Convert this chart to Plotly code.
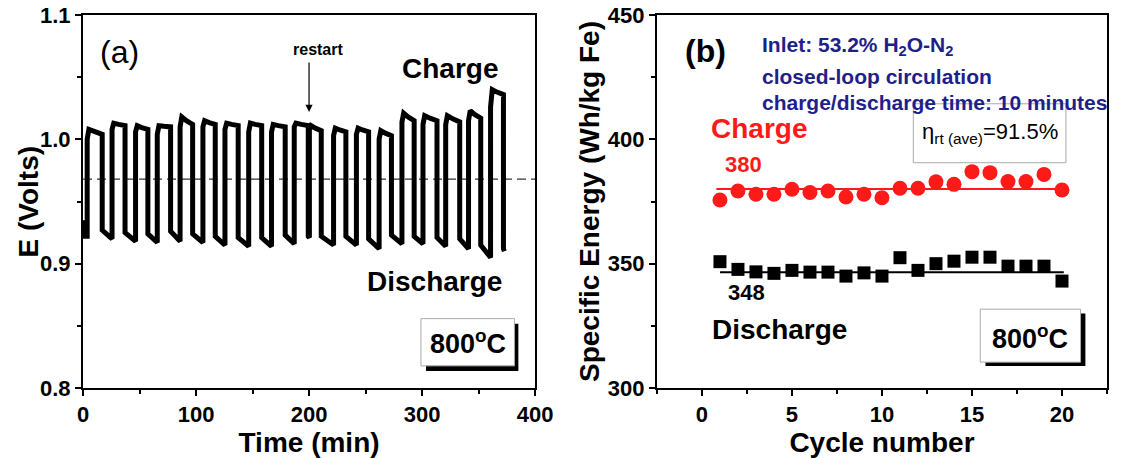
import plotly.graph_objects as go

# ---------------- Panel (a): E vs time ----------------
charge_on = [3.7, 25.7, 46.5, 65.7, 85.9, 106.1, 125.6, 146.6, 166.8, 186.9, 200.3,
             221.7, 241.9, 262.0, 282.2, 300.8, 320.9, 341.1, 360.6]
charge_off = [17.0, 37.2, 57.4, 77.5, 97.0, 117.0, 137.3, 158.1, 178.9, 199.3, 210.8,
              232.6, 252.7, 272.9, 293.0, 313.2, 333.3, 351.9, 372.0]
charge_start_V = [1.000, 1.008, 1.006, 1.004, 1.010, 1.010, 1.008, 1.006, 1.006, 1.010, 1.008,
                  1.003, 1.004, 1.000, 1.014, 1.012, 1.012, 1.015, 1.026]
charge_peak_V = [1.008, 1.013, 1.011, 1.011, 1.018, 1.015, 1.013, 1.013, 1.012, 1.013, 1.011,
                 1.009, 1.009, 1.007, 1.021, 1.019, 1.019, 1.023, 1.040]
charge_end_V = [1.004, 1.011, 1.008, 1.010, 1.012, 1.012, 1.011, 1.011, 1.010, 1.011, 1.007,
                1.006, 1.006, 1.003, 1.015, 1.015, 1.014, 1.017, 1.036]
discharge_start_V = [0.927, 0.925, 0.924, 0.926, 0.924, 0.922, 0.921, 0.921, 0.923, 0.922, 0.922,
                     0.922, 0.920, 0.923, 0.922, 0.921, 0.920, 0.915, 0.912]
discharge_end_V = [0.920, 0.918, 0.917, 0.918, 0.917, 0.915, 0.914, 0.914, 0.916, 0.921, 0.915,
                   0.915, 0.912, 0.916, 0.916, 0.914, 0.912, 0.905, 0.910]
initial_t = [0.0, 1.5]
initial_V = [0.935, 0.922]
end_time = 372.8
ref_line_t = [0, 400]
ref_line_V = [0.968, 0.968]

# ---------------- Panel (b): specific energy ----------------
cycles = list(range(1, 21))
charge_energy = [375.6, 379.2, 377.9, 377.9, 379.9, 378.6, 379.2, 376.8, 377.9, 376.5,
                 380.3, 380.3, 382.9, 381.9, 387.0, 386.6, 383.0, 383.0, 385.9, 379.6]
discharge_energy = [350.8, 347.7, 346.7, 346.1, 347.3, 346.6, 346.6, 345.0, 346.3, 345.0,
                    352.4, 347.3, 350.0, 351.0, 352.6, 352.6, 349.0, 349.0, 349.0, 343.0]
charge_avg_x = [0.8, 20]
charge_avg_y = [380, 380]
discharge_avg_x = [1, 20.1]
discharge_avg_y = [346.5, 346.5]

# build polyline for panel (a) from the read values
t_pts = list(initial_t)
v_pts = list(initial_V)
n = len(charge_on)
for i in range(n):
    on, off = charge_on[i], charge_off[i]
    t_pts += [on, on, on + 1.5, (on + off) / 2, off, off]
    v_pts += [v_pts[-1], charge_start_V[i], charge_peak_V[i],
              (charge_peak_V[i] + charge_end_V[i]) / 2, charge_end_V[i], discharge_start_V[i]]
    nxt = charge_on[i + 1] if i + 1 < n else end_time
    t_pts += [nxt]
    v_pts += [discharge_end_V[i]]

FONT = "Arial, Liberation Sans, sans-serif"
fig = go.Figure()

fig.add_trace(go.Scatter(x=ref_line_t, y=ref_line_V, mode="lines",
                         line=dict(color="#333333", width=1.2, dash="9px,5px"),
                         xaxis="x", yaxis="y", showlegend=False, hoverinfo="skip"))
fig.add_trace(go.Scatter(x=t_pts, y=v_pts, mode="lines",
                         line=dict(color="black", width=5),
                         xaxis="x", yaxis="y", showlegend=False))

fig.add_trace(go.Scatter(x=charge_avg_x, y=charge_avg_y, mode="lines",
                         line=dict(color="#ff1a1a", width=2),
                         xaxis="x2", yaxis="y2", showlegend=False))
fig.add_trace(go.Scatter(x=discharge_avg_x, y=discharge_avg_y, mode="lines",
                         line=dict(color="black", width=2),
                         xaxis="x2", yaxis="y2", showlegend=False))
fig.add_trace(go.Scatter(x=cycles, y=charge_energy, mode="markers",
                         marker=dict(symbol="circle", size=15, color="#ff1a1a"),
                         xaxis="x2", yaxis="y2", showlegend=False))
fig.add_trace(go.Scatter(x=cycles, y=discharge_energy, mode="markers",
                         marker=dict(symbol="square", size=13, color="black"),
                         xaxis="x2", yaxis="y2", showlegend=False))

tickfont = dict(family=FONT, size=22, color="black", weight="bold")
titlefont = dict(family=FONT, size=28, color="black", weight="bold")
common = dict(showgrid=False, zeroline=False, showline=True, linewidth=2, linecolor="black",
              mirror=True, ticks="outside", ticklen=6, tickwidth=2, tickcolor="black",
              tickfont=tickfont, ticklabeloverflow="allow")

fig.update_layout(
    width=1126, height=458, autosize=False,
    margin=dict(l=83, r=1, t=15, b=70),
    paper_bgcolor="white", plot_bgcolor="white",
    xaxis=dict(domain=[0, 0.4415], range=[0, 400], dtick=100,
               minor=dict(dtick=50, ticks="outside", ticklen=4, tickwidth=1.5, tickcolor="black"),
               title=dict(text="Time (min)", font=titlefont, standoff=2), **common),
    yaxis=dict(range=[0.8, 1.1], dtick=0.1, tickformat=".1f",
               minor=dict(dtick=0.05, ticks="outside", ticklen=4, tickwidth=1.5, tickcolor="black"),
               **common),
    xaxis2=dict(domain=[0.5605, 1], range=[-2.5, 22.5], dtick=5, anchor="y2",
                minor=dict(dtick=2.5, ticks="outside", ticklen=4, tickwidth=1.5, tickcolor="black"),
                title=dict(text="Cycle number", font=titlefont, standoff=2), **common),
    yaxis2=dict(range=[300, 450], dtick=50, anchor="x2",
                minor=dict(dtick=25, ticks="outside", ticklen=4, tickwidth=1.5, tickcolor="black"),
                title=dict(text="Specific Energy (Wh/kg Fe)", font=titlefont, standoff=0), **common),
)

shapes = [
    # panel a 800C box with shadow
    dict(type="rect", xref="x", yref="y", x0=303.5, x1=385.2, y0=0.8137, y1=0.8517,
         fillcolor="black", line=dict(width=0), layer="above"),
    dict(type="rect", xref="x", yref="y", x0=299, x1=381.7, y0=0.8178, y1=0.8558,
         fillcolor="white", line=dict(color="#aaaaaa", width=1), layer="above"),
    # panel b eta box
    dict(type="rect", xref="x2", yref="y2", x0=11.74, x1=20.22, y0=390.6, y1=414.3,
         fillcolor="white", line=dict(color="#aaaaaa", width=1), layer="below"),
    # panel b 800C box with shadow
    dict(type="rect", xref="x2", yref="y2", x0=15.75, x1=21.3, y0=308.8, y1=330.0,
         fillcolor="black", line=dict(width=0), layer="above"),
    dict(type="rect", xref="x2", yref="y2", x0=15.46, x1=21.03, y0=310.4, y1=331.7,
         fillcolor="white", line=dict(color="#aaaaaa", width=1), layer="above"),
]
fig.update_layout(shapes=shapes)

navy = "#1f1f8a"
bold = "bold"
ann = [
    dict(xref="paper", yref="paper", x=(28 - 83) / 1042, y=0.5, text="E (Volts)", textangle=-90,
         showarrow=False, xanchor="center", yanchor="middle", font=titlefont),
    dict(xref="x", yref="y", x=32, y=1.070, text="(a)", showarrow=False,
         font=dict(family=FONT, size=32, color="black")),
    dict(xref="x", yref="y", x=208, y=1.072, text="restart", showarrow=False,
         font=dict(family=FONT, size=16, color="black", weight=bold)),
    dict(xref="x", yref="y", x=200, y=1.022, ax=200, ay=1.063, axref="x", ayref="y",
         text="", showarrow=True, arrowhead=2, arrowsize=1.2, arrowwidth=1.2, arrowcolor="black"),
    dict(xref="x", yref="y", x=325, y=1.057, text="Charge", showarrow=False,
         font=dict(family=FONT, size=28, color="black", weight=bold)),
    dict(xref="x", yref="y", x=311, y=0.886, text="Discharge", showarrow=False,
         font=dict(family=FONT, size=28, color="black", weight=bold)),
    dict(xref="x", yref="y", x=340.3, y=0.8368, text="800<sup>o</sup>C", showarrow=False,
         font=dict(family=FONT, size=27, color="black", weight=bold)),
    dict(xref="x2", yref="y2", x=0.2, y=435.6, text="(b)", showarrow=False,
         font=dict(family=FONT, size=32, color="black", weight=bold)),
    dict(xref="paper", yref="paper", x=(772 - 83) / 1042, y=(388 - 31.4) / 373, xanchor="left",
         text="Inlet: 53.2% H<sub>2</sub>O-N<sub>2</sub>", showarrow=False,
         font=dict(family=FONT, size=21, color=navy, weight=bold)),
    dict(xref="paper", yref="paper", x=(772 - 83) / 1042, y=(388 - 63) / 373, xanchor="left",
         text="closed-loop circulation", showarrow=False,
         font=dict(family=FONT, size=21, color=navy, weight=bold)),
    dict(xref="paper", yref="paper", x=(772 - 83) / 1042, y=(388 - 89) / 373, xanchor="left",
         text="charge/discharge time: 10 minutes", showarrow=False,
         font=dict(family=FONT, size=21, color=navy, weight=bold)),
    dict(xref="x2", yref="y2", x=3.15, y=404.5, text="Charge", showarrow=False,
         font=dict(family=FONT, size=28, color="#ff1a1a", weight=bold)),
    dict(xref="x2", yref="y2", x=2.3, y=389.8, text="380", showarrow=False,
         font=dict(family=FONT, size=22, color="#ff1a1a", weight=bold)),
    dict(xref="x2", yref="y2", x=2.48, y=338.4, text="348", showarrow=False,
         font=dict(family=FONT, size=22, color="black", weight=bold)),
    dict(xref="x2", yref="y2", x=4.3, y=323.5, text="Discharge", showarrow=False,
         font=dict(family=FONT, size=28, color="black", weight=bold)),
    dict(xref="x2", yref="y2", x=15.98, y=402.4,
         text="η<sub>rt (ave)</sub>=91.5%", showarrow=False,
         font=dict(family=FONT, size=22, color="black")),
    dict(xref="x2", yref="y2", x=18.25, y=320.7, text="800<sup>o</sup>C", showarrow=False,
         font=dict(family=FONT, size=27, color="black", weight=bold)),
]
fig.update_layout(annotations=ann)

# remove the page's default body margin / scrollbars, and if the window's CSS size is not
# 1126x458, fit the figure (and its pixel margins) to the actual window size
post = """
document.documentElement.style.overflow='hidden';
document.body.style.overflow='hidden';
document.body.style.margin='0';
var gd = document.getElementById('{plot_id}');
var W = document.documentElement.clientWidth || window.innerWidth;
var H = document.documentElement.clientHeight || window.innerHeight;
if (W && H && (Math.abs(W - 1126) > 1 || Math.abs(H - 458) > 1)) {
  gd.style.width = W + 'px';
  gd.style.height = H + 'px';
  Plotly.relayout(gd, {width: W, height: H,
    'margin.l': 83 * W / 1126, 'margin.r': 1 * W / 1126,
    'margin.t': 15 * H / 458, 'margin.b': 70 * H / 458});
}
"""
fig.write_html("out.html", config={"responsive": False, "displayModeBar": False},
               post_script=post)
